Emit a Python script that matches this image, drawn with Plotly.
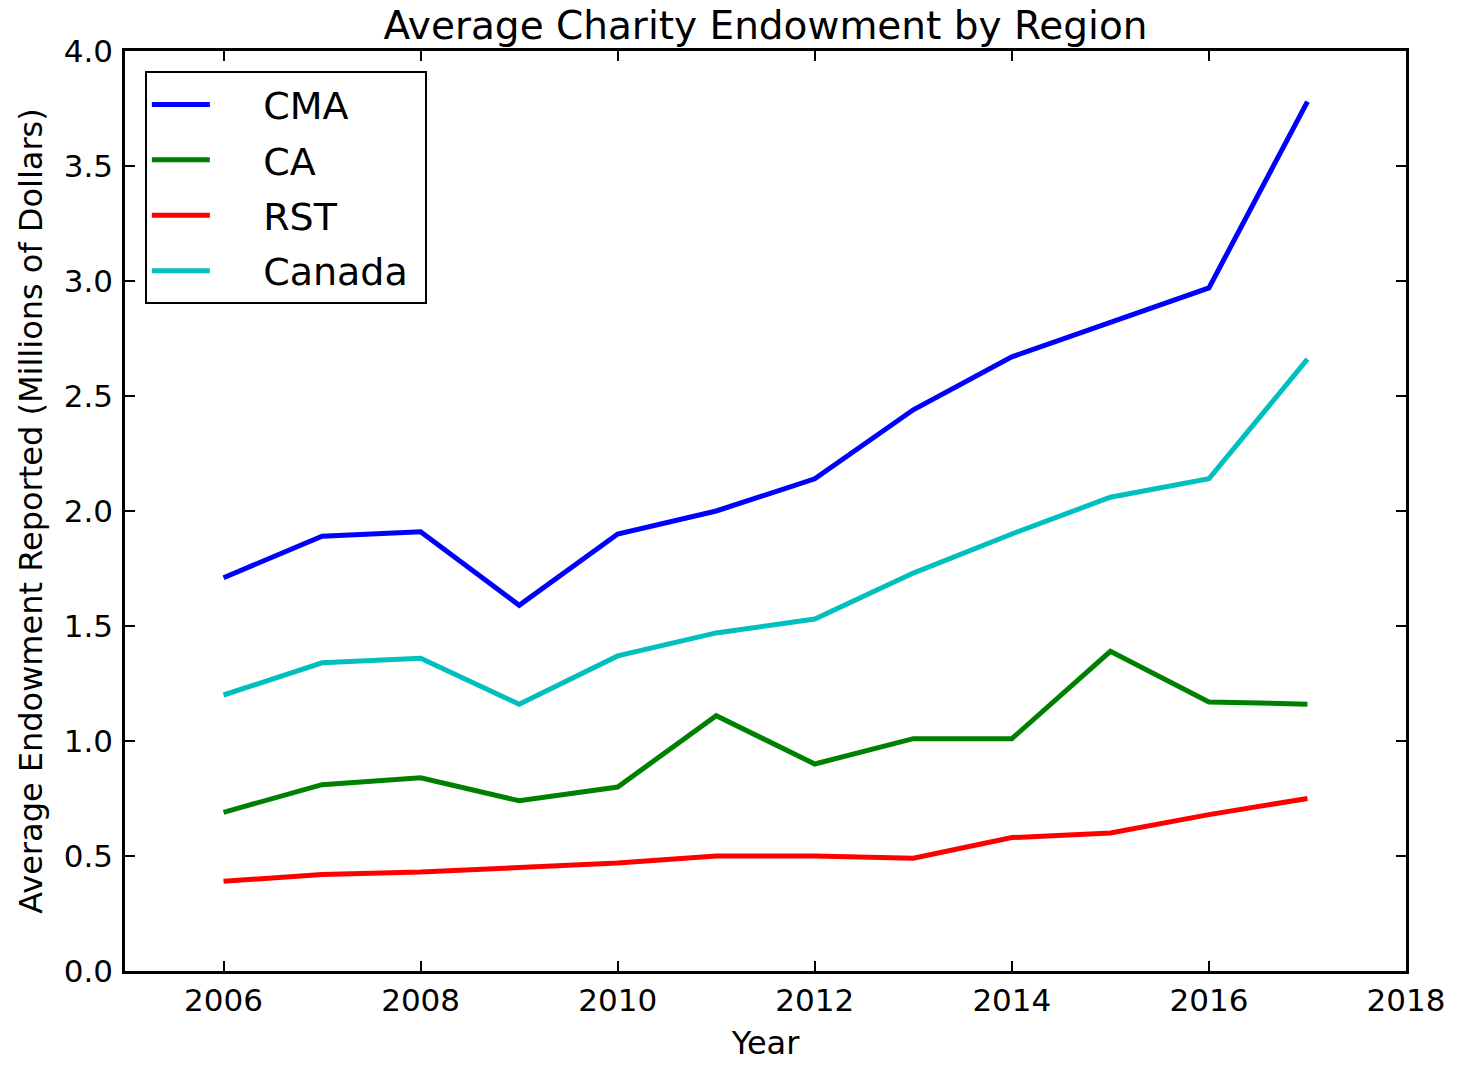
import plotly.graph_objects as go

years = [2006, 2007, 2008, 2009, 2010, 2011, 2012, 2013, 2014, 2015, 2016, 2017]
cma = [1.71, 1.89, 1.91, 1.59, 1.90, 2.00, 2.14, 2.44, 2.67, 2.82, 2.97, 3.78]
ca = [0.69, 0.81, 0.84, 0.74, 0.80, 1.11, 0.90, 1.01, 1.01, 1.39, 1.17, 1.16]
rst = [0.39, 0.42, 0.43, 0.45, 0.47, 0.50, 0.50, 0.49, 0.58, 0.60, 0.68, 0.75]
canada = [1.20, 1.34, 1.36, 1.16, 1.37, 1.47, 1.53, 1.73, 1.90, 2.06, 2.14, 2.66]

series = [("CMA", cma, "#0000ff"), ("CA", ca, "#008000"), ("RST", rst, "#ff0000"), ("Canada", canada, "#00bfbf")]

FONT = "DejaVu Sans"
PAD = "\u00a0" * 4

fig = go.Figure()
for name, vals, color in series:
    fig.add_trace(go.Scatter(x=years, y=vals, mode="lines", name=PAD + name + "\u00a0", legendgroup=name,
                             line=dict(color=color, width=5)))

axis_common = dict(showline=True, linecolor="black", linewidth=2.5, mirror="allticks",
                   ticks="inside", ticklen=10, tickwidth=1.5, tickcolor="black",
                   showgrid=False, zeroline=False,
                   tickfont=dict(family=FONT, size=31, color="black"))

fig.update_layout(
    width=1457, height=1067,
    margin=dict(l=125, r=41, t=51, b=93),
    paper_bgcolor="white", plot_bgcolor="white",
    font=dict(family=FONT, color="black"),
    title=dict(text="Average Charity Endowment by Region", x=0.5, xref="paper", xanchor="center",
               y=1 - 25 / 1067, yref="container", yanchor="middle",
               font=dict(family=FONT, size=39, color="black")),
    xaxis=dict(range=[2005, 2018], tickvals=[2006, 2008, 2010, 2012, 2014, 2016, 2018],
               ticklabelstandoff=0,
               title=dict(text="Year", font=dict(family=FONT, size=32), standoff=15),
               **axis_common),
    yaxis=dict(range=[0, 4.0], dtick=0.5, tickformat=".1f", ticklabelstandoff=3,
               title=dict(text="Average Endowment Reported (Millions of Dollars)", font=dict(family=FONT, size=32), standoff=12),
               **axis_common),
    legend=dict(x=0.0155, y=0.978, xanchor="left", yanchor="top",
                bordercolor="black", borderwidth=2, bgcolor="white",
                font=dict(family=FONT, size=38, color="black"),
                tracegroupgap=3, itemwidth=58),
    showlegend=True,
)

fig.write_html("out.html", config={"displayModeBar": False},
               post_script="document.body.style.margin='0';document.body.style.padding='0';")
